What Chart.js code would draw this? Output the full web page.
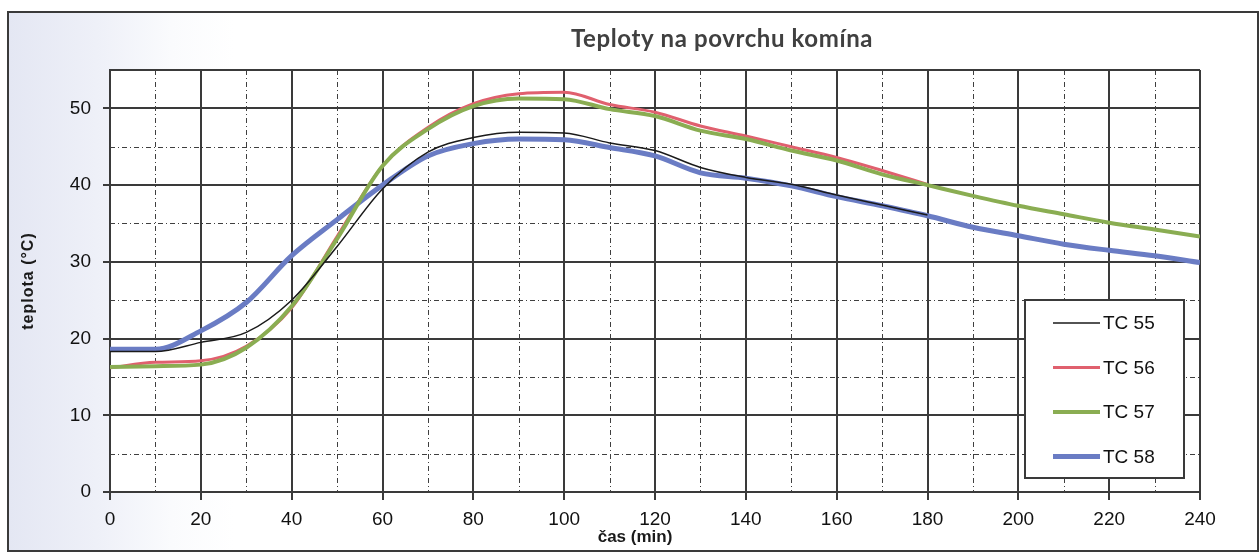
<!DOCTYPE html>
<html>
<head>
<meta charset="utf-8">
<title>Teploty na povrchu komína</title>
<script src="https://cdn.jsdelivr.net/npm/chart.js@4/dist/chart.umd.min.js"></script>
<style>
  html, body { margin: 0; padding: 0; background: #fff; }
  #wrap { position: relative; width: 1260px; height: 553px; }
  #frame {
    position: absolute; left: 7px; top: 11px; width: 1248px; height: 537px;
    border: 2px solid #3a3a3a;
    background: linear-gradient(to right, #e4e7f3 0%, #eef0f8 7%, #fafbfd 13%, #fff 18%);
  }
  canvas { position: absolute; left: 0; top: 0; }
</style>
</head>
<body>
<div id="wrap">
  <div id="frame"></div>
  <canvas id="chart" width="1260" height="553"></canvas>
</div>
<script>
// time in minutes, one reading every 10 min
const times = [0, 10, 20, 30, 40, 50, 60, 70, 80, 90, 100, 110, 120, 130, 140, 150, 160, 170, 180, 190, 200, 210, 220, 230, 240];

// TC 55 and TC 56 stop at 180 min
const tc55 = [18.3, 18.3, 19.5, 20.8, 25.0, 32.0, 39.5, 44.3, 46.2, 46.9, 46.8, 45.5, 44.5, 42.3, 41.0, 40.1, 38.7, 37.4, 36.1];
const tc56 = [16.2, 16.9, 17.1, 19.0, 24.0, 33.3, 42.5, 47.5, 50.6, 51.9, 52.1, 50.5, 49.5, 47.7, 46.4, 45.0, 43.6, 41.9, 40.1];
const tc57 = [16.3, 16.4, 16.6, 18.8, 24.2, 33.0, 42.5, 47.3, 50.3, 51.3, 51.2, 49.9, 49.0, 47.1, 46.0, 44.5, 43.2, 41.4, 40.0, 38.6, 37.3, 36.2, 35.1, 34.2, 33.3];
const tc58 = [18.6, 18.6, 21.0, 24.7, 30.8, 35.5, 40.0, 43.8, 45.4, 46.0, 45.9, 44.9, 43.8, 41.6, 40.9, 39.9, 38.5, 37.3, 36.0, 34.5, 33.4, 32.3, 31.5, 30.8, 29.9];

const seriesNames = ['TC 55', 'TC 56', 'TC 57', 'TC 58'];
const seriesColors = ['#1a1a1a', '#e0606e', '#8aad52', '#6a7cc4'];
const seriesWidths = [1.5, 3, 4, 5];
const seriesOrder = [1, 4, 2, 3]; // black on top, red at the bottom

const gridColor = '#3a3a3a';
const tickFont = { family: 'Liberation Sans, Arial, sans-serif', size: 19 };

// pair up times with the readings of one sensor
const toPoints = vals => vals.map((v, i) => ({ x: times[i], y: v }));

// white plot background
const plotBg = {
  id: 'plotBg',
  beforeDraw(chart) {
    const { ctx, chartArea: a } = chart;
    ctx.save();
    ctx.fillStyle = '#fff';
    ctx.fillRect(a.left, a.top, a.right - a.left, a.bottom - a.top);
    ctx.restore();
  }
};

// minor dashed grid + top border of the plot
const minorGrid = {
  id: 'minorGrid',
  beforeDatasetsDraw(chart) {
    const { ctx, chartArea: a, scales: { x, y } } = chart;
    ctx.save();
    ctx.strokeStyle = '#3f3f3f';
    ctx.lineWidth = 1;
    ctx.setLineDash([5, 3, 1, 3]);
    for (let t = 10; t < 240; t += 20) {
      const px = Math.round(x.getPixelForValue(t)) + 0.5;
      ctx.beginPath(); ctx.moveTo(px, a.top); ctx.lineTo(px, a.bottom); ctx.stroke();
    }
    for (let v = 5; v < 55; v += 10) {
      const py = Math.round(y.getPixelForValue(v)) + 0.5;
      ctx.beginPath(); ctx.moveTo(a.left, py); ctx.lineTo(a.right, py); ctx.stroke();
    }
    ctx.setLineDash([]);
    ctx.strokeStyle = gridColor;
    ctx.lineWidth = 2;
    ctx.beginPath(); ctx.moveTo(a.left, a.top); ctx.lineTo(a.right, a.top); ctx.stroke();
    ctx.restore();
  }
};

// legend box in the lower right corner of the plot
const boxLegend = {
  id: 'boxLegend',
  afterDatasetsDraw(chart) {
    const { ctx, chartArea: a } = chart;
    const w = 159, h = 178;
    const left = a.right - 16 - w, top = a.bottom - 14 - h;
    ctx.save();
    ctx.fillStyle = '#fff';
    ctx.fillRect(left, top, w, h);
    ctx.strokeStyle = gridColor;
    ctx.lineWidth = 2;
    ctx.strokeRect(left, top, w, h);
    ctx.font = '19px Liberation Sans, Arial, sans-serif';
    ctx.textBaseline = 'middle';
    ctx.textAlign = 'left';
    chart.data.datasets.forEach((ds, i) => {
      const yy = top + 23 + i * 44.5;
      ctx.strokeStyle = ds.borderColor;
      ctx.lineWidth = ds.borderWidth;
      ctx.beginPath(); ctx.moveTo(left + 28, yy); ctx.lineTo(left + 75, yy); ctx.stroke();
      ctx.fillStyle = '#111';
      ctx.fillText(ds.label, left + 78, yy + 1);
    });
    ctx.restore();
  }
};

// chart title and axis titles
const titles = {
  id: 'titles',
  afterDraw(chart) {
    const { ctx } = chart;
    ctx.save();
    ctx.fillStyle = '#404040';
    ctx.font = 'bold 24px Lato, sans-serif';
    ctx.letterSpacing = '0.6px';
    ctx.textAlign = 'center';
    ctx.textBaseline = 'alphabetic';
    ctx.fillText('Teploty na povrchu komína', 722, 47);

    ctx.letterSpacing = '0px';
    ctx.fillStyle = '#1a1a1a';
    ctx.font = 'bold 17px Liberation Sans, Arial, sans-serif';
    ctx.textBaseline = 'middle';
    ctx.fillText('čas (min)', 635, 537);

    ctx.translate(29, 281);
    ctx.rotate(-Math.PI / 2);
    ctx.font = 'bold 16px Liberation Sans, Arial, sans-serif';
    ctx.letterSpacing = '1px';
    ctx.fillText('teplota (°C)', 0, 0);
    ctx.restore();
  }
};

const allSeries = [tc55, tc56, tc57, tc58];

new Chart(document.getElementById('chart'), {
  type: 'line',
  data: {
    datasets: allSeries.map((vals, i) => ({
      label: seriesNames[i],
      data: toPoints(vals),
      borderColor: seriesColors[i],
      borderWidth: seriesWidths[i],
      order: seriesOrder[i],
      pointRadius: 0,
      fill: false,
      cubicInterpolationMode: 'monotone'
    }))
  },
  options: {
    responsive: false,
    animation: false,
    layout: { padding: { left: 0, top: 70, right: 60, bottom: 0 } },
    plugins: {
      legend: { display: false },
      title: { display: false },
      tooltip: { enabled: false }
    },
    scales: {
      x: {
        type: 'linear',
        min: 0,
        max: 240,
        ticks: { stepSize: 20, font: tickFont, color: '#111', padding: 8, maxRotation: 0 },
        grid: { color: gridColor, lineWidth: 2, tickLength: 8, tickColor: gridColor },
        border: { color: gridColor, width: 2 },
        afterFit: s => { s.height = 61; }
      },
      y: {
        min: 0,
        max: 55,
        ticks: {
          stepSize: 10,
          font: tickFont,
          color: '#111',
          padding: 12,
          callback: v => (v % 10 === 0 ? v : '')
        },
        grid: {
          color: c => (c.tick && c.tick.value % 10 === 0 ? gridColor : 'transparent'),
          tickColor: c => (c.tick && c.tick.value % 10 === 0 ? gridColor : 'transparent'),
          lineWidth: 2,
          tickLength: 7
        },
        border: { color: gridColor, width: 2 },
        afterFit: s => { s.width = 110; }
      }
    }
  },
  plugins: [plotBg, minorGrid, boxLegend, titles]
});
</script>
</body>
</html>
